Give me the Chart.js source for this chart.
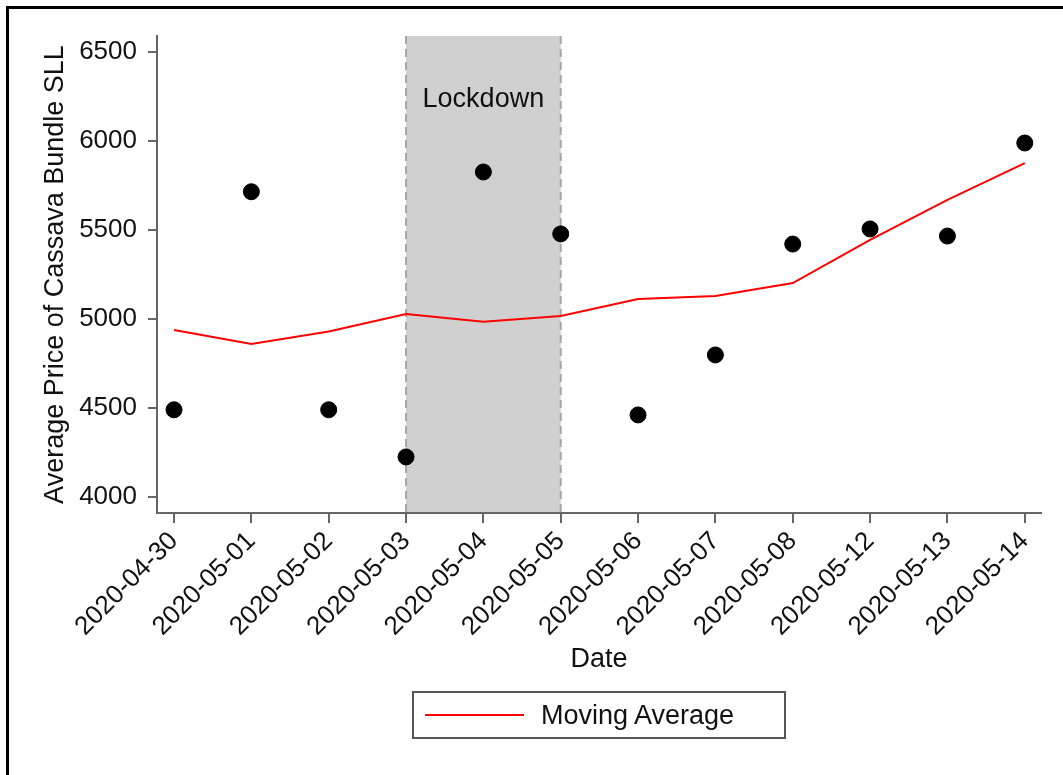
<!DOCTYPE html>
<html>
<head>
<meta charset="utf-8">
<script src="https://cdn.jsdelivr.net/npm/chart.js@4.4.1/dist/chart.umd.min.js"></script>
<style>
  html, body { margin: 0; padding: 0; background: #fff; overflow: hidden; }
  #wrap { position: relative; width: 1063px; height: 775px; }
  #frame { position: absolute; left: 6px; top: 6px; width: 2000px; height: 2000px;
           border-left: 3px solid #000; border-top: 3px solid #000; pointer-events: none; }
  #legend { position: absolute; left: 412px; top: 691px; width: 370px; height: 44px;
            border: 2px solid #555; font-family: "Liberation Sans", Arial, sans-serif;
            font-size: 27px; color: #111; }
  #legend .swatch { position: absolute; left: 11px; top: 21px; width: 99px; height: 2px; background: #ff0000; }
  #legend .lbl { position: absolute; left: 127px; top: 7px; line-height: 30px; }
</style>
</head>
<body>
<div id="wrap">
  <canvas id="price-chart" width="1063" height="775"></canvas>
  <div id="frame"></div>
  <div id="legend"><span class="swatch"></span><span class="lbl">Moving Average</span></div>
</div>
<script>
// data
var dates = ['2020-04-30', '2020-05-01', '2020-05-02', '2020-05-03', '2020-05-04', '2020-05-05',
             '2020-05-06', '2020-05-07', '2020-05-08', '2020-05-12', '2020-05-13', '2020-05-14'];
var avgPrice = [4490, 5715, 4490, 4225, 5826, 5478, 4461, 4798, 5421, 5506, 5466, 5989];
var movingAvg = [4938, 4860, 4930, 5028, 4985, 5017, 5112, 5129, 5202, 5444, 5669, 5876];
var yTicks = [4000, 4500, 5000, 5500, 6000, 6500];
var lockdownFrom = '2020-05-03';
var lockdownTo = '2020-05-05';
var lockdownLabel = 'Lockdown';

var font = '"Liberation Sans", Arial, sans-serif';
var axisGray = '#666';

var lockdownPlugin = {
  id: 'lockdown',
  beforeDraw: function (chart) {
    var ctx = chart.ctx, area = chart.chartArea;
    var x = chart.scales.x;
    var x1 = x.getPixelForValue(dates.indexOf(lockdownFrom));
    var x2 = x.getPixelForValue(dates.indexOf(lockdownTo));
    ctx.save();
    ctx.fillStyle = '#d0d0d0';
    ctx.fillRect(x1, area.top, x2 - x1, area.bottom - area.top);
    ctx.strokeStyle = '#a6a6a6';
    ctx.lineWidth = 2;
    ctx.setLineDash([8, 5]);
    [x1, x2].forEach(function (px) {
      ctx.beginPath();
      ctx.moveTo(px, area.top);
      ctx.lineTo(px, area.bottom);
      ctx.stroke();
    });
    ctx.setLineDash([]);
    ctx.fillStyle = '#111';
    ctx.font = '27px ' + font;
    ctx.textAlign = 'center';
    ctx.textBaseline = 'middle';
    ctx.fillText(lockdownLabel, (x1 + x2) / 2, area.top + 64);
    ctx.restore();
  }
};

new Chart('price-chart', {
  type: 'scatter',
  data: {
    datasets: [
      {
        label: 'Average Price',
        data: avgPrice.map(function (v, i) { return { x: i, y: v }; }),
        backgroundColor: '#000',
        borderColor: '#000',
        pointRadius: 8,
        pointHoverRadius: 8
      },
      {
        label: 'Moving Average',
        type: 'line',
        data: movingAvg.map(function (v, i) { return { x: i, y: v }; }),
        borderColor: '#ff0000',
        borderWidth: 2,
        pointRadius: 0,
        fill: false,
        tension: 0
      }
    ]
  },
  options: {
    responsive: false,
    animation: false,
    layout: { padding: { left: 39, top: 36, right: 22, bottom: 99 } },
    plugins: {
      legend: { display: false },
      tooltip: { enabled: false }
    },
    scales: {
      x: {
        type: 'linear',
        min: -0.22,
        max: 11.21,
        afterBuildTicks: function (scale) {
          scale.ticks = dates.map(function (d, i) { return { value: i }; });
        },
        afterFit: function (scale) { scale.height = 163; },
        grid: { drawOnChartArea: false, drawTicks: true, tickLength: 10, color: axisGray, lineWidth: 2 },
        border: { display: true, color: axisGray, width: 2 },
        ticks: {
          autoSkip: false,
          minRotation: 45,
          maxRotation: 45,
          padding: 3,
          color: '#111',
          font: { family: font, size: 26 },
          callback: function (v) { return dates[v]; }
        },
        title: { display: true, text: 'Date', color: '#111', padding: 0,
                 font: { family: font, size: 27 } }
      },
      y: {
        min: 3910,
        max: 6590,
        afterBuildTicks: function (scale) {
          scale.ticks = yTicks.map(function (v) { return { value: v }; });
        },
        afterFit: function (scale) { scale.width = 118; },
        grid: { drawOnChartArea: false, drawTicks: true, tickLength: 9, color: axisGray, lineWidth: 2 },
        border: { display: true, color: axisGray, width: 2 },
        ticks: {
          padding: 11,
          color: '#111',
          font: { family: font, size: 26 },
          callback: function (v) { return String(v); }
        },
        title: { display: true, text: 'Average Price of Cassava Bundle SLL', color: '#111', padding: 0,
                 font: { family: font, size: 27 } }
      }
    }
  },
  plugins: [lockdownPlugin]
});
</script>
</body>
</html>
